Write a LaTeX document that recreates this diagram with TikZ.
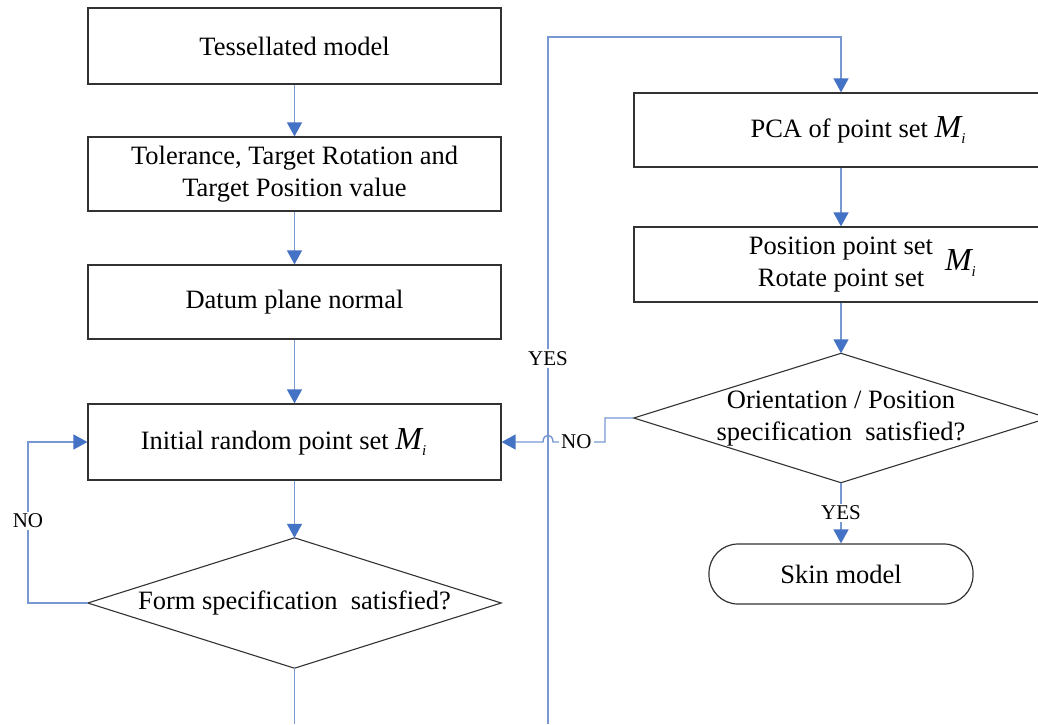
\documentclass[tikz,border=0pt]{standalone}
\usepackage{fontspec}
\setmainfont{Liberation Serif}
\usetikzlibrary{arrows.meta,calc}
\definecolor{linec}{RGB}{120,152,210}
\definecolor{tipc}{RGB}{68,114,196}
\definecolor{boxc}{RGB}{50,50,50}
\newcommand{\Mi}{{\fontsize{32}{32}\selectfont\itshape M}\raisebox{-6pt}{\fontsize{15}{15}\selectfont\itshape i}}
\begin{document}
\begin{tikzpicture}[x=1pt,y=-1pt,
  every node/.style={font=\fontsize{26.5}{32}\selectfont},
  procbox/.style={draw=boxc,line width=1.2pt,minimum width=413pt,inner sep=0pt,align=center},
  decbox/.style={inner sep=0pt,align=center},
  decline/.style={draw=boxc,line width=1.1pt},
  termbox/.style={draw=boxc,line width=1.2pt,rounded corners=29pt,minimum width=264pt,minimum height=60pt,inner sep=0pt},
  conn/.style={draw=linec,line width=1.4pt},
  arr/.style={conn,-{Triangle[length=14pt,width=15pt,color=tipc]}},
  lbl/.style={fill=white,inner sep=2pt,font=\fontsize{21}{24}\selectfont}]
\useasboundingbox (0,0) rectangle (1038,724);
\clip (0,0) rectangle (1038,724);
% left column
\node[procbox,minimum height=76pt] (b1) at (294.5,46) {Tessellated model};
\node[procbox,minimum height=74pt] (b2) at (294.5,174) {Tolerance, Target Rotation and\\Target Position value};
\node[procbox,minimum height=74pt] (b3) at (294.5,302) {Datum plane normal};
\node[procbox,minimum height=76pt] (b4) at (294.5,442) {Initial random point set \Mi\hspace{22pt}};
\node[decbox,minimum width=413pt,minimum height=130pt] (d1) at (294.5,603) {Form specification\ \ satisfied?};
\draw[decline] (d1.north) -- (d1.east) -- (d1.south) -- (d1.west) -- cycle;
% right column
\node[procbox,minimum width=414pt,minimum height=74pt] (p1) at (841,130) {\hspace{34pt}PCA of point set \Mi};
\node[procbox,minimum width=414pt,minimum height=75pt] (p2) at (841,264.5) {\begin{tabular}{@{}c@{}}Position point set\\Rotate point set\end{tabular}\makebox[0pt][l]{\hspace{12pt}\Mi}};
\node[decbox,minimum width=414pt,minimum height=129pt] (d2) at (841,418) {\raisebox{-3pt}{\begin{tabular}{@{}c@{}}Orientation / Position\\specification\ \ satisfied?\end{tabular}}};
\draw[decline] (d2.north) -- (d2.east) -- (d2.south) -- (d2.west) -- cycle;
\node[termbox] (sk) at (841,574) {Skin model};
% coordinates
\coordinate (lbot) at (294.5,724);
\coordinate (ybot) at (548,724);
\coordinate (ytop) at (548,37);
\coordinate (nr1) at (605,418);
\coordinate (nr2) at (605,442);
\coordinate (hopR) at (553,442);
\coordinate (hopL) at (543,442);
\coordinate (nl1) at (28,603);
\coordinate (nl2) at (28,442);
% connectors
\draw[arr] (b1) -- (b2);
\draw[arr] (b2) -- (b3);
\draw[arr] (b3) -- (b4);
\draw[arr] (b4) -- (d1.north);
\draw[conn] (d1.south) -- (lbot);
\draw[arr] (ybot) -- node[lbl,pos=0.532]{YES} (ytop) -| (p1.north);
\draw[arr] (p1) -- (p2);
\draw[arr] (p2) -- (d2.north);
\draw[arr] (d2.south) -- node[lbl]{YES} (sk.north);
\draw[arr] (d2.west) -- (nr1) -- (nr2) -- node[lbl,pos=0.55]{NO} (hopR) .. controls (553,433) and (543,433) .. (hopL) -- (b4.east);
\draw[arr] (d1.west) -- (nl1) -- node[lbl,pos=0.51]{NO} (nl2) -- (b4.west);
\end{tikzpicture}
\end{document}
